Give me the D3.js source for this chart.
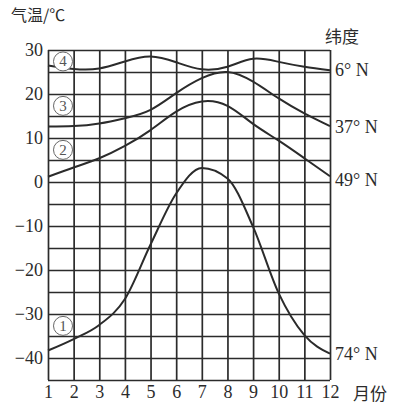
<!DOCTYPE html>
<html>
<head>
<meta charset="utf-8">
<script src="https://cdn.jsdelivr.net/npm/d3@7"></script>
<style>
body{margin:0;background:#fff;}
svg{display:block;}
</style>
</head>
<body>
<svg id="chart" width="394" height="405"></svg>
<script>
// months and monthly mean temperature (℃)
var months = [1,2,3,4,5,6,7,8,9,10,11,12];
var t6N  = [26.5,25.7,25.8,27.4,28.5,27.2,25.6,26.2,28.0,27.3,26.2,25.4];
var t37N = [12.6,12.7,13.3,14.5,16.4,20.2,23.6,25.0,22.8,19.0,15.6,12.7];
var t49N = [1.2,3.3,5.4,8.2,11.8,16.0,18.3,17.3,13.2,9.4,5.4,1.3];
var t74N = [-38.3,-35.7,-32.5,-26.6,-14.2,-2.6,3.2,0.8,-10.2,-25.3,-34.8,-39.0];
var seriesNames = ["④","③","②","①"];
var latLabels = ["6° N","37° N","49° N","74° N"];
var yTicks = [30,20,10,0,-10,-20,-30,-40];
var gridStep = [30,25,20,15,10,5,0,-5,-10,-15,-20,-25,-30,-35,-40,-45];

var svg = d3.select("#chart");
var ink = "#2b2b2b";
var serif = "'Liberation Serif','DejaVu Serif',serif";
var cjk = "'Noto Sans CJK SC',sans-serif";

var x = d3.scaleLinear().domain([1,12]).range([48,330]);
var y = d3.scaleLinear().domain([-45,30]).range([380,50]);

// grid: horizontal every 5 degrees, vertical every month
svg.append("g").attr("transform","translate(" + x(1) + ",0)")
	.call(d3.axisLeft(y).tickValues(gridStep).tickSize(-(x(12)-x(1))).tickFormat(""));
svg.append("g").attr("transform","translate(0," + y(-45) + ")")
	.call(d3.axisBottom(x).tickValues(months).tickSize(-(y(-45)-y(30))).tickFormat(""));
svg.selectAll(".domain").remove();
svg.selectAll(".tick line").attr("stroke",ink).attr("stroke-width",1.7);

// tick labels
var yl = svg.append("g").attr("transform","translate(43,0)")
	.call(d3.axisLeft(y).tickValues(yTicks).tickSize(0).tickPadding(0)
		.tickFormat(function(d){ return d < 0 ? "\u2212" + Math.abs(d) : d; }));
yl.select(".domain").remove();
yl.selectAll("text").attr("font-family",serif).attr("font-size",18).attr("fill",ink);

var xl = svg.append("g").attr("transform","translate(0,383)")
	.call(d3.axisBottom(x).tickValues(months).tickSize(0).tickPadding(2).tickFormat(d3.format("d")));
xl.select(".domain").remove();
xl.selectAll("text").attr("font-family",serif).attr("font-size",18).attr("fill",ink);

// curves (the polar one rises steeply, so keep it monotone to avoid wiggles)
var all = [t6N,t37N,t49N,t74N];
function lineFor(i){
	return d3.line()
		.x(function(d,j){ return x(months[j]); })
		.y(function(d){ return y(d); })
		.curve(i == 3 ? d3.curveMonotoneX : d3.curveNatural);
}
svg.append("g").selectAll("path").data(all).enter().append("path")
	.attr("d",function(d,i){ return lineFor(i)(d); })
	.attr("fill","none")
	.attr("stroke",ink)
	.attr("stroke-width",2);

// circled series numbers
var circPos = [27.4,17.3,7.3,-32.7];
var marks = svg.append("g").selectAll("g").data(seriesNames).enter().append("g")
	.attr("transform",function(d,i){ return "translate(63," + y(circPos[i]) + ")"; });
marks.append("circle").attr("r",9.5).attr("fill","#fff").attr("stroke","#666").attr("stroke-width",1);
marks.append("text")
	.text(function(d,i){ return 4 - i; })
	.attr("text-anchor","middle")
	.attr("dominant-baseline","central")
	.attr("font-family",serif)
	.attr("font-size",15)
	.attr("fill","#555");

// latitude labels at the right end of each curve
var latPos = [25.4,12.5,0.5,-39.0];
svg.append("g").selectAll("text").data(latLabels).enter().append("text")
	.text(function(d){ return d; })
	.attr("x",335)
	.attr("y",function(d,i){ return y(latPos[i]); })
	.attr("dominant-baseline","central")
	.attr("font-family",serif)
	.attr("font-size",18)
	.attr("fill",ink);

// titles
svg.append("text").text("气温/℃").attr("x",11).attr("y",14)
	.attr("dominant-baseline","central").attr("font-family",cjk)
	.attr("font-size",16).attr("fill",ink);
svg.append("text").text("纬度").attr("x",325).attr("y",35)
	.attr("dominant-baseline","central").attr("font-family",cjk)
	.attr("font-size",17).attr("fill",ink);
svg.append("text").text("月份").attr("x",353).attr("y",392)
	.attr("dominant-baseline","central").attr("font-family",cjk)
	.attr("font-size",17).attr("fill",ink);
</script>
</body>
</html>
